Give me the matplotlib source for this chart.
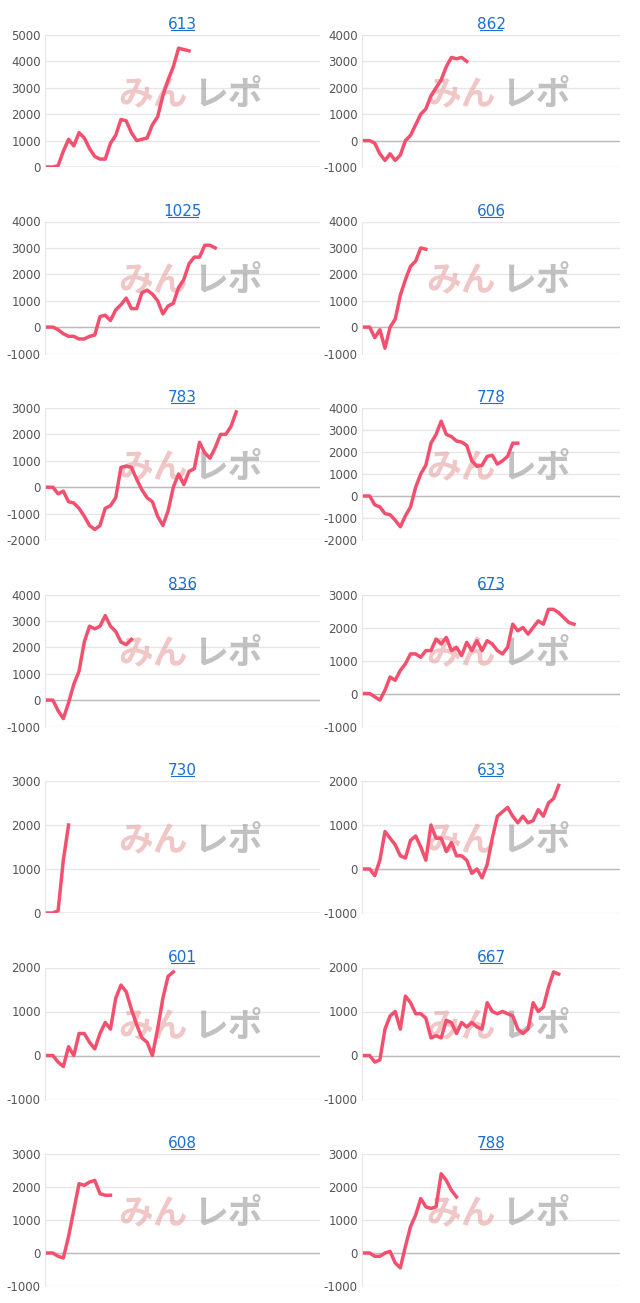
import matplotlib.pyplot as plt
from matplotlib.ticker import MultipleLocator

plt.rcParams["axes.unicode_minus"] = False

titles = ["613", "862", "1025", "606", "783", "778", "836", "673", "730", "633", "601", "667", "608", "788"]

s613 = [0, 0, 50, 600, 1050, 800, 1300, 1100, 700, 400, 300, 300, 900, 1200, 1800, 1750, 1300, 1000, 1050, 1100, 1600, 1900, 2700, 3300, 3800, 4500, 4450, 4400]
s862 = [0, 0, -100, -500, -750, -500, -750, -550, 0, 200, 600, 1000, 1200, 1700, 2000, 2300, 2800, 3150, 3100, 3150, 3000]
s1025 = [0, 0, -100, -250, -350, -350, -450, -450, -350, -300, 400, 450, 250, 650, 850, 1100, 700, 700, 1300, 1400, 1250, 1000, 500, 800, 900, 1500, 1800, 2400, 2650, 2650, 3100, 3100, 3000]
s606 = [0, 0, -400, -100, -800, 0, 300, 1200, 1800, 2300, 2500, 3000, 2950]
s783 = [0, 0, -250, -150, -550, -600, -800, -1100, -1450, -1600, -1450, -800, -700, -400, 750, 800, 750, 300, -100, -400, -550, -1100, -1450, -900, 0, 500, 100, 600, 700, 1700, 1300, 1100, 1500, 2000, 2000, 2300, 2850]
s778 = [0, 0, -400, -500, -800, -850, -1100, -1400, -900, -500, 400, 1000, 1400, 2400, 2800, 3400, 2800, 2700, 2500, 2450, 2300, 1600, 1350, 1400, 1800, 1850, 1450, 1600, 1800, 2400, 2400]
s836 = [0, 0, -400, -700, -100, 600, 1100, 2200, 2800, 2700, 2800, 3200, 2800, 2600, 2200, 2100, 2300]
s673 = [0, 0, -100, -200, 100, 500, 400, 700, 900, 1200, 1200, 1100, 1300, 1300, 1650, 1500, 1700, 1300, 1400, 1150, 1550, 1300, 1600, 1300, 1600, 1500, 1300, 1200, 1400, 2100, 1900, 2000, 1800, 2000, 2200, 2100, 2550, 2550, 2450, 2300, 2150, 2100]
s730 = [0, 0, 50, 1200, 2000]
s633 = [0, 0, -150, 200, 850, 700, 550, 300, 250, 650, 750, 500, 200, 1000, 700, 700, 400, 600, 300, 300, 200, -100, 0, -200, 100, 700, 1200, 1300, 1400, 1200, 1050, 1200, 1050, 1100, 1350, 1200, 1500, 1600, 1900]
s601 = [0, 0, -150, -250, 200, 0, 500, 500, 300, 150, 500, 750, 600, 1300, 1600, 1450, 1050, 700, 400, 300, 0, 600, 1300, 1800, 1900]
s667 = [0, 0, -150, -100, 600, 900, 1000, 600, 1350, 1200, 950, 950, 850, 400, 450, 400, 800, 750, 500, 750, 650, 750, 650, 600, 1200, 1000, 950, 1000, 950, 900, 600, 500, 600, 1200, 1000, 1100, 1550, 1900, 1850]
s608 = [0, 0, -100, -150, 500, 1300, 2100, 2050, 2150, 2200, 1800, 1750, 1750]
s788 = [0, 0, -100, -100, 0, 50, -300, -450, 200, 800, 1150, 1650, 1400, 1350, 1400, 2400, 2200, 1900, 1700]

series = [s613, s862, s1025, s606, s783, s778, s836, s673, s730, s633, s601, s667, s608, s788]
ylims = [(0, 5000), (-1000, 4000), (-1000, 4000), (-1000, 4000), (-2000, 3000), (-2000, 4000), (-1000, 4000),
         (-1000, 3000), (0, 3000), (-1000, 2000), (-1000, 2000), (-1000, 2000), (-1000, 3000), (-1000, 3000)]

W, H = 640, 1303
fig = plt.figure(figsize=(W / 100, H / 100), dpi=100)
jp = ["Noto Sans CJK JP", "DejaVu Sans"]

for i, (t, s, yl) in enumerate(zip(titles, series, ylims)):
    row, col = divmod(i, 2)
    left = 45 if col == 0 else 362
    width = 275 if col == 0 else 258
    top = 35 + 186.5 * row
    ax = fig.add_axes([left / W, 1 - (top + 132) / H, width / W, 132 / H])
    ax.plot(range(len(s)), s, color="#f2506e", lw=2.5, solid_joinstyle="round", zorder=3)
    ax.set_xlim(-0.5, 52 if col == 0 else 50)
    ax.set_ylim(yl)
    ax.yaxis.set_major_locator(MultipleLocator(1000))
    ax.grid(axis="y", color="#e6e6e6", lw=1)
    ax.axhline(0, color="#bbbbbb", lw=1)
    for sp in ax.spines.values():
        sp.set_visible(False)
    ax.spines["left"].set_visible(True)
    ax.spines["left"].set_color("#e6e6e6")
    ax.set_xticks([])
    ax.tick_params(axis="y", length=0, labelsize=8.5, labelcolor="#555555", pad=3)
    ax.set_axisbelow(True)
    ax.set_title(t, color="#1a6fd0", fontsize=11, pad=4)
    # watermark
    ax.text(0.52, 0.55, "みん", transform=ax.transAxes, fontsize=25, fontweight="bold", style="italic",
            color="#e8a0a0", alpha=0.6, ha="right", va="center", family=jp, zorder=1)
    ax.text(0.54, 0.55, "レポ", transform=ax.transAxes, fontsize=25, fontweight="bold", style="italic",
            color="#999999", alpha=0.6, ha="left", va="center", family=jp, zorder=1)
    # title underline
    cx = (left + width / 2) / W
    tw = len(t) * 7.5 / W
    fig.add_artist(plt.Line2D([cx - tw / 2, cx + tw / 2], [1 - (top - 5) / H] * 2, color="#1a6fd0", lw=0.8))

fig.savefig("out.png", dpi=100, facecolor="white")
